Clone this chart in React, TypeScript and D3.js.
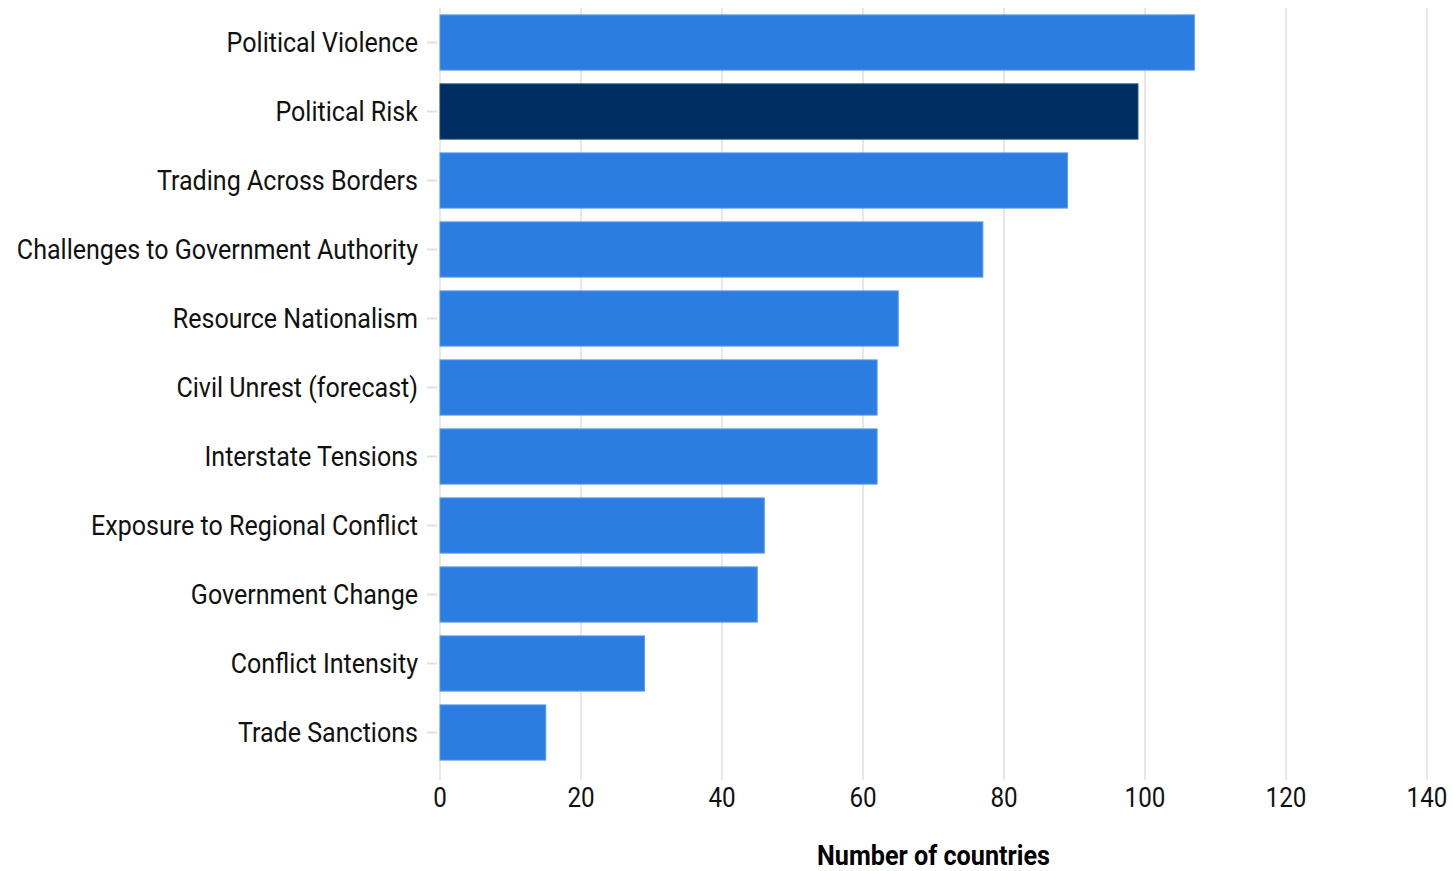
import React from "react";
import * as d3 from "d3";

const categories = [
  "Political Violence",
  "Political Risk",
  "Trading Across Borders",
  "Challenges to Government Authority",
  "Resource Nationalism",
  "Civil Unrest (forecast)",
  "Interstate Tensions",
  "Exposure to Regional Conflict",
  "Government Change",
  "Conflict Intensity",
  "Trade Sanctions",
];
const values = [107, 99, 89, 77, 65, 62, 62, 46, 45, 29, 15];
const highlighted = ["Political Risk"];
const xTicks = [0, 20, 40, 60, 80, 100, 120, 140];
const xTitle = "Number of countries";

const W = 1453;
const H = 871;
const FONT = "Roboto, sans-serif";
const FS = 28;
const SX_LABEL = 0.895;
const SX_TICK = 0.865;
const SX_TITLE = 0.9;

export default function App() {
  const x = d3.scaleLinear().domain([0, 140]).range([440, 1427]);
  const y = d3
    .scaleBand<string>()
    .domain(categories)
    .range([8, 767])
    .paddingInner(0.2)
    .paddingOuter(0.1);

  return (
    <svg
      width={W}
      height={H}
      style={{ position: "absolute", left: 0, top: 0, background: "#fff" }}
    >
      {xTicks.map((t) => (
        <line
          key={"g" + t}
          x1={x(t)}
          x2={x(t)}
          y1={8}
          y2={780}
          stroke="#e8e8e8"
          strokeWidth={2}
        />
      ))}
      {categories.map((c, i) => (
        <rect
          key={c}
          x={x(0)}
          y={y(c)}
          width={x(values[i]) - x(0)}
          height={y.bandwidth()}
          fill={highlighted.includes(c) ? "#002d62" : "#2b7de1"}
          stroke={highlighted.includes(c) ? "#1e4a7c" : "#5a9ae8"}
          strokeWidth={1}
        />
      ))}
      {categories.map((c) => {
        const cy = (y(c) as number) + y.bandwidth() / 2;
        return (
          <g key={"l" + c}>
            <line x1={427} x2={437} y1={cy} y2={cy} stroke="#e0e0e0" strokeWidth={2} />
            <text
              transform={`translate(418,${cy - 1}) scale(${SX_LABEL},1)`}
              textAnchor="end"
              dominantBaseline="central"
              fontFamily={FONT}
              fontSize={FS}
              fill="#111"
            >
              {c}
            </text>
          </g>
        );
      })}
      {xTicks.map((t) => (
        <text
          key={"t" + t}
          transform={`translate(${x(t)},${797}) scale(${SX_TICK},1)`}
          textAnchor="middle"
          dominantBaseline="central"
          fontFamily={FONT}
          fontSize={FS}
          fill="#111"
        >
          {t}
        </text>
      ))}
      <text
        transform={`translate(${(x(0) + x(140)) / 2},${856}) scale(${SX_TITLE},1)`}
        textAnchor="middle"
        dominantBaseline="central"
        fontFamily={FONT}
        fontSize={FS}
        fontWeight="bold"
        fill="#000"
      >
        {xTitle}
      </text>
    </svg>
  );
}
